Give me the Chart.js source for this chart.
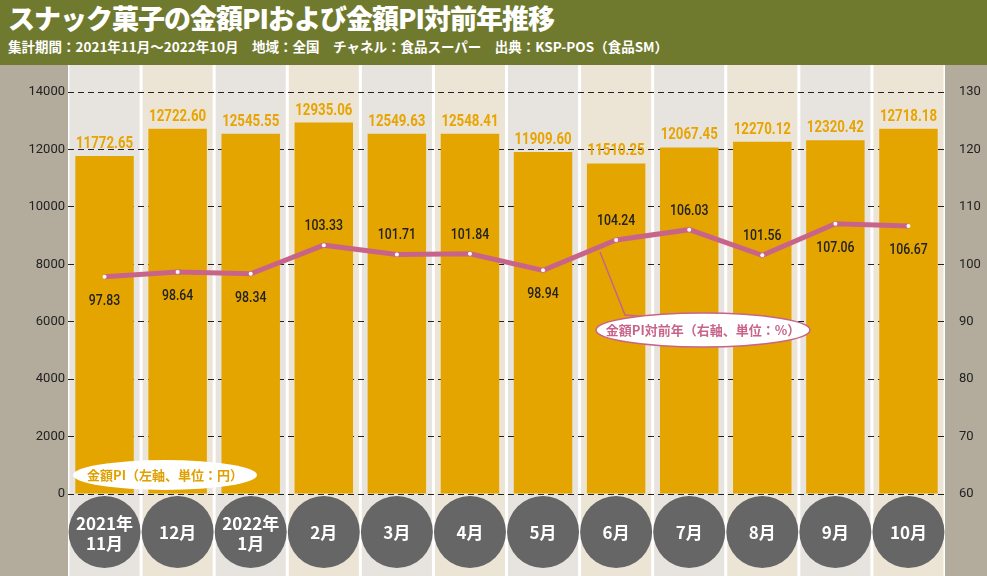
<!DOCTYPE html>
<html><head><meta charset="utf-8">
<script src="https://cdn.jsdelivr.net/npm/chart.js@4"></script>
<style>
body{margin:0;width:987px;height:576px;overflow:hidden;font-family:"Noto Sans CJK JP",sans-serif;}
#head{height:65px;background:#6f7a2e;color:#fff;padding-left:8px;box-sizing:border-box}
#head h1{margin:0;font-size:27px;line-height:36px;font-weight:900;letter-spacing:-1px}
#head p{margin:0;font-size:13.5px;font-weight:700;line-height:20px}
#wrap{width:987px;height:511px;position:relative}
</style></head><body>
<div id="head"><h1>スナック菓子の金額PIおよび金額PI対前年推移</h1>
<p>集計期間：2021年11月～2022年10月　地域：全国　チャネル：食品スーパー　出典：KSP-POS（食品SM）</p></div>
<div id="wrap"><canvas id="c" width="987" height="511"></canvas></div>
<script>
const months = [["2021年","11月"],["12月"],["2022年","1月"],["2月"],["3月"],["4月"],["5月"],["6月"],["7月"],["8月"],["9月"],["10月"]];
const piValues = [11772.65,12722.60,12545.55,12935.06,12549.63,12548.41,11909.60,11510.25,12067.45,12270.12,12320.42,12718.18];
const yoyValues = [97.83,98.64,98.34,103.33,101.71,101.84,98.94,104.24,106.03,101.56,107.06,106.67];
const yoyBelow = [true,true,true,false,false,false,true,false,false,false,true,true];

// narrow text like the original's condensed font
function narrowText(ctx, t, x, y, sx) {
  ctx.save(); ctx.translate(x, y); ctx.scale(sx, 1); ctx.fillText(t, 0, 0); ctx.restore();
}

const decor = {
  id: "decor",
  beforeDraw(chart) {
    const ctx = chart.ctx, a = chart.chartArea;
    const step = (a.right - a.left) / months.length;
    ctx.save();
    ctx.fillStyle = "#b3ab9c";
    ctx.fillRect(0, 0, a.left, chart.height);
    ctx.fillRect(a.right, 0, chart.width - a.right, chart.height);
    months.forEach((m, i) => {
      ctx.fillStyle = i % 2 ? "#ece5d5" : "#e7e4df";
      ctx.fillRect(a.left + i * step + 1.5, 0, step - 3, chart.height);
    });
    ctx.restore();
  },
  afterDatasetsDraw(chart) {
    const ctx = chart.ctx, x = chart.scales.x;
    const bars = chart.getDatasetMeta(0).data, pts = chart.getDatasetMeta(1).data;
    ctx.save();
    ctx.textAlign = "center";
    ctx.fillStyle = "#e8a400";
    ctx.font = "700 17px 'Roboto',sans-serif";
    bars.forEach((b, i) => narrowText(ctx, piValues[i].toFixed(2), b.x, b.y - 8, 0.78));
    ctx.fillStyle = "#222";
    ctx.font = "500 15px 'Roboto',sans-serif";
    pts.forEach((p, i) => narrowText(ctx, yoyValues[i].toFixed(2), p.x, yoyBelow[i] ? p.y + 28 : p.y - 15, 0.82));
    months.forEach((m, i) => {
      const cx = x.getPixelForValue(i), cy = 467;
      ctx.fillStyle = "#666666";
      ctx.beginPath(); ctx.arc(cx, cy, 36, 0, Math.PI * 2); ctx.fill();
      ctx.fillStyle = "#fff";
      ctx.font = "700 17px 'Noto Sans CJK JP',sans-serif";
      if (m.length == 2) { ctx.fillText(m[0], cx, cy - 2); ctx.fillText(m[1], cx, cy + 18); }
      else ctx.fillText(m[0], cx, cy + 7);
    });
    ctx.fillStyle = "#fff";
    ctx.beginPath(); ctx.ellipse(165, 410, 92, 15, 0, 0, Math.PI * 2); ctx.fill();
    ctx.fillStyle = "#e0a000"; ctx.font = "700 13px 'Noto Sans CJK JP',sans-serif";
    ctx.fillText("金額PI（左軸、単位：円）", 165, 415);
    ctx.strokeStyle = "#c8648a"; ctx.lineWidth = 1.5;
    ctx.beginPath(); ctx.moveTo(600, 187); ctx.lineTo(625, 250); ctx.lineTo(650, 252); ctx.stroke();
    ctx.fillStyle = "#fff";
    ctx.beginPath(); ctx.ellipse(703, 265, 107, 17, 0, 0, Math.PI * 2); ctx.fill(); ctx.stroke();
    ctx.fillStyle = "#c8648a";
    ctx.fillText("金額PI対前年（右軸、単位：%）", 703, 270);
    ctx.restore();
  }
};

new Chart(document.getElementById("c"), {
  data: {
    labels: months.map(m => m.join("")),
    datasets: [
      { type: "bar", data: piValues, backgroundColor: "#e5a500", yAxisID: "y", order: 2,
        categoryPercentage: 0.8, barPercentage: 1 },
      { type: "line", data: yoyValues, yAxisID: "y1", order: 1, borderColor: "#c8648a", borderWidth: 5,
        pointRadius: 2, pointBackgroundColor: "#fff", pointBorderWidth: 0, tension: 0 }
    ]
  },
  options: {
    responsive: false, animation: false,
    layout: { padding: { top: 27, bottom: 82 } },
    plugins: { legend: { display: false }, tooltip: { enabled: false } },
    scales: {
      x: { display: false },
      y: { min: 0, max: 14000, ticks: { stepSize: 2000, color: "#222", callback: v => String(v), font: { size: 13, family: "Roboto" } },
        grid: { color: "#222", drawTicks: false }, border: { display: false, dash: [6, 4] },
        afterFit(s) { s.width = 68; } },
      y1: { position: "right", min: 60, max: 130, ticks: { stepSize: 10, color: "#222", padding: 6, font: { size: 13, family: "Roboto" } },
        grid: { display: false }, border: { display: false },
        afterFit(s) { s.width = 42; } }
    }
  },
  plugins: [decor]
});
</script></body></html>
